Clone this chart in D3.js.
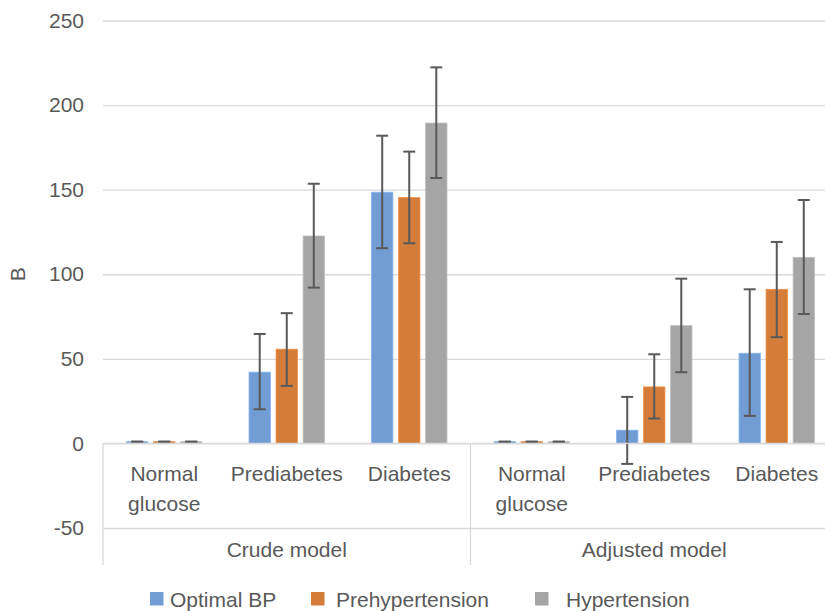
<!DOCTYPE html>
<html>
<head>
<meta charset="utf-8">
<script src="https://cdn.jsdelivr.net/npm/d3@7"></script>
<style>
  body { margin: 0; background: #fff; }
  svg { display: block; font-family: "Liberation Sans", Arial, sans-serif; }
</style>
</head>
<body>
<div id="chart"></div>
<script>
// chart data
const groups = ["Crude model", "Adjusted model"];
const categories = ["Normal glucose", "Prediabetes", "Diabetes"];
const series = ["Optimal BP", "Prehypertension", "Hypertension"];
const colors = ["#719CD4", "#D47C3A", "#A5A5A5"];
const yTicks = [-50, 0, 50, 100, 150, 200, 250];

// B estimates per series, crude (3) then adjusted (3)
const optimalB = [1, 42.1, 148.5, 1, 7.8, 53.3];
const optimalLow = [1, 20.2, 115.4, 1, -12.1, 16.3];
const optimalHigh = [1, 64.7, 181.9, 1, 27.5, 91.1];

const prehypB = [1, 55.7, 145.3, 1, 33.4, 91.1];
const prehypLow = [1, 34.0, 118.3, 1, 14.7, 62.8];
const prehypHigh = [1, 77.0, 172.5, 1, 52.7, 119.1];

const hypB = [1, 122.6, 189.4, 1, 69.6, 110.0];
const hypLow = [1, 92.1, 156.9, 1, 42.1, 76.5];
const hypHigh = [1, 153.5, 222.3, 1, 97.4, 143.9];

const width = 825;
const height = 611;
const plotLeft = 103;
const plotRight = 838; // plot runs past the right edge in the source
const plotTop = 20.5;
const plotBottom = 528;
const textColor = "#595959";
const gridColor = "#D9D9D9";
const fontSize = 21;

const svg = d3
  .select("#chart")
  .append("svg")
  .attr("width", width)
  .attr("height", height)
  .style("font-size", fontSize + "px");

const keys = [];
groups.forEach((g) => categories.forEach((c) => keys.push(g + "|" + c)));

const rows = [];
const seriesData = [
  [optimalB, optimalLow, optimalHigh],
  [prehypB, prehypLow, prehypHigh],
  [hypB, hypLow, hypHigh],
];
keys.forEach((k, i) => {
  series.forEach((s, j) => {
    rows.push({
      key: k,
      series: s,
      color: colors[j],
      value: seriesData[j][0][i],
      low: seriesData[j][1][i],
      high: seriesData[j][2][i],
    });
  });
});

const yScale = d3.scaleLinear().domain([-50, 250]).range([plotBottom, plotTop]);
const x0 = d3.scaleBand().domain(keys).range([plotLeft, plotRight]);
const x1 = d3
  .scaleBand()
  .domain(series)
  .range([0, x0.bandwidth()])
  .paddingInner(0.21)
  .paddingOuter(0.87);
const groupScale = d3.scaleBand().domain(groups).range([plotLeft, plotRight]);

// gridlines
const yAxis = d3
  .axisLeft(yScale)
  .tickValues(yTicks)
  .tickFormat((d) => String(d))
  .tickSize(-(plotRight - plotLeft))
  .tickPadding(19);
const yAxisGroup = svg
  .append("g")
  .attr("transform", `translate(${plotLeft}, 0)`)
  .call(yAxis);
yAxisGroup.select(".domain").remove();
yAxisGroup
  .selectAll(".tick line")
  .attr("stroke", gridColor)
  .attr("stroke-width", 1.3);
yAxisGroup
  .selectAll(".tick text")
  .attr("fill", textColor)
  .style("font-size", fontSize + "px")
  .style("font-family", "Liberation Sans, Arial, sans-serif");

// bars
const bars = svg.append("g");
bars
  .selectAll("rect")
  .data(rows)
  .enter()
  .append("rect")
  .attr("x", (d) => x0(d.key) + x1(d.series))
  .attr("width", x1.bandwidth())
  .attr("y", (d) => Math.min(yScale(d.value), yScale(0)))
  .attr("height", (d) => Math.abs(yScale(0) - yScale(d.value)))
  .attr("fill", (d) => d.color)
  .attr("stroke", (d) => d3.color(d.color).brighter(0.4))
  .attr("stroke-width", 0.8);

// error bars
const errs = svg.append("g").attr("stroke", "#595959").attr("stroke-width", 2);
rows.forEach((d) => {
  const cx = x0(d.key) + x1(d.series) + x1.bandwidth() / 2;
  errs
    .append("line")
    .attr("x1", cx)
    .attr("x2", cx)
    .attr("y1", yScale(d.low))
    .attr("y2", yScale(d.high));
  [d.low, d.high].forEach((v) => {
    errs
      .append("line")
      .attr("x1", cx - 6)
      .attr("x2", cx + 6)
      .attr("y1", yScale(v))
      .attr("y2", yScale(v));
  });
});

// category axis (zero line, group dividers)
const axisG = svg.append("g").attr("stroke", gridColor).attr("stroke-width", 1.3);
axisG
  .append("line")
  .attr("x1", plotLeft)
  .attr("x2", plotRight)
  .attr("y1", yScale(0))
  .attr("y2", yScale(0));
[plotLeft, groupScale("Adjusted model"), plotRight].forEach((x) => {
  axisG
    .append("line")
    .attr("x1", x)
    .attr("x2", x)
    .attr("y1", yScale(0))
    .attr("y2", 565);
});

// category labels, wrapped in two lines when needed
keys.forEach((k) => {
  const words = k.split("|")[1].split(" ");
  const t = svg
    .append("text")
    .attr("text-anchor", "middle")
    .attr("fill", textColor)
    .attr("x", x0(k) + x0.bandwidth() / 2)
    .attr("y", 481);
  words.forEach((w, i) => {
    t.append("tspan")
      .attr("x", x0(k) + x0.bandwidth() / 2)
      .attr("dy", i === 0 ? 0 : 30)
      .text(w);
  });
});

groups.forEach((g) => {
  svg
    .append("text")
    .attr("text-anchor", "middle")
    .attr("fill", textColor)
    .attr("x", groupScale(g) + groupScale.bandwidth() / 2)
    .attr("y", 557)
    .text(g);
});

// y axis title
svg
  .append("text")
  .attr("transform", `translate(25, ${(plotTop + plotBottom) / 2}) rotate(-90)`)
  .attr("text-anchor", "middle")
  .attr("fill", textColor)
  .text("B");

// legend
const legendX = [150, 311, 535];
const legendGap = [20, 25, 31];
const legend = svg.append("g");
series.forEach((s, i) => {
  legend
    .append("rect")
    .attr("x", legendX[i])
    .attr("y", 592)
    .attr("width", 13.5)
    .attr("height", 13.5)
    .attr("fill", colors[i]);
  legend
    .append("text")
    .attr("x", legendX[i] + legendGap[i])
    .attr("y", 606.5)
    .attr("fill", textColor)
    .text(s);
});
</script>
</body>
</html>
